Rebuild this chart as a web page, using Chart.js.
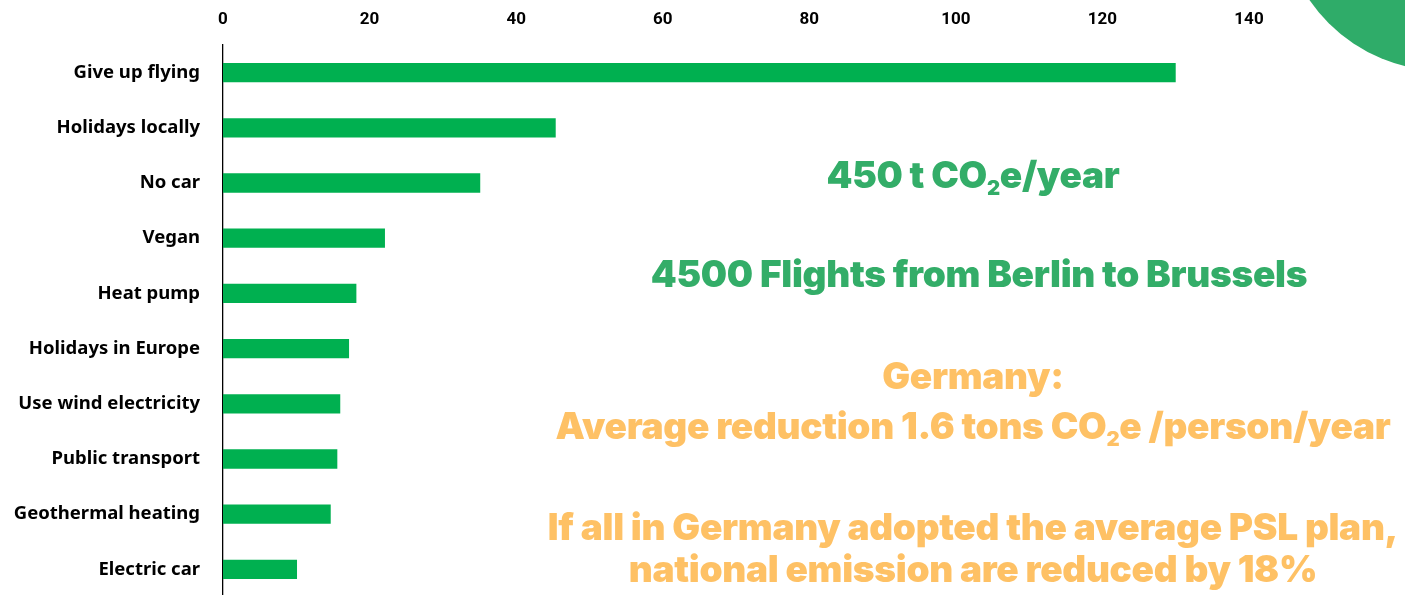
<!DOCTYPE html>
<html>
<head>
<meta charset="utf-8">
<script src="https://cdn.jsdelivr.net/npm/chart.js@4"></script>
<style>
  html, body { margin: 0; padding: 0; background: #fff; overflow: hidden; }
  #wrap { position: relative; width: 1405px; height: 595px; overflow: hidden; }
  #chart { position: absolute; left: 0; top: 0; }
  .blob {
    position: absolute; left: 1281px; top: -255px;
    width: 326px; height: 326px; border-radius: 50%; background: #2fac69;
  }
  .note {
    position: absolute; left: 973px; transform: translateX(-50%); text-align: center;
    font-family: "Inter", "Noto Sans", sans-serif; font-weight: 900;
    font-size: 37px; line-height: 1; letter-spacing: -0.3px; white-space: nowrap;
  }
  .note sub { font-size: 0.55em; vertical-align: -0.35em; line-height: 0; }
  .green { color: #33ad68; }
  .orange { color: #fec165; }
</style>
</head>
<body>
<div id="wrap">
  <canvas id="chart" width="1405" height="597"></canvas>
  <div class="blob"></div>
  <div class="note green" style="top:156px;">450 t CO<sub>2</sub>e/year</div>
  <div class="note green" style="top:255px; left:979px;">4500 Flights from Berlin to Brussels</div>
  <div class="note orange" style="top:357px;">Germany:</div>
  <div class="note orange" style="top:407px;">Average reduction 1.6 tons CO<sub>2</sub>e /person/year</div>
  <div class="note orange" style="top:508px;">If all in Germany adopted the average PSL plan,</div>
  <div class="note orange" style="top:550px;">national emission are reduced by 18%</div>
</div>
<script>
// CO2e savings per measure (t/year)
const measures = [
  "Give up flying",
  "Holidays locally",
  "No car",
  "Vegan",
  "Heat pump",
  "Holidays in Europe",
  "Use wind electricity",
  "Public transport",
  "Geothermal heating",
  "Electric car",
];
const savings = [130, 45.4, 35.1, 22.1, 18.2, 17.2, 16.0, 15.6, 14.7, 10.1];
const xTicks = [0, 20, 40, 60, 80, 100, 120, 140];

new Chart(document.getElementById("chart").getContext("2d"), {
  type: "bar",
  data: {
    labels: measures,
    datasets: [
      {
        data: savings,
        backgroundColor: "#00b050",
        borderWidth: 0,
        categoryPercentage: 1,
        barPercentage: 0.35,
      },
    ],
  },
  options: {
    responsive: false,
    animation: false,
    indexAxis: "y",
    layout: { padding: { right: 156, top: 0, left: 0, bottom: 0 } },
    plugins: { legend: { display: false }, tooltip: { enabled: false } },
    scales: {
      x: {
        position: "top",
        min: 0,
        max: 140,
        afterBuildTicks: (axis) => {
          axis.ticks = xTicks.map((v) => ({ value: v }));
        },
        afterFit: (axis) => {
          axis.height = 45;
        },
        grid: { display: false, drawTicks: false },
        border: { display: false },
        ticks: {
          color: "#000",
          padding: 15,
          font: { family: "'Liberation Sans Narrow', 'Roboto', sans-serif", size: 17, weight: "bold" },
        },
      },
      y: {
        // fixed label column, no extra room above/below the first/last bar
        afterFit: (axis) => {
          axis.width = 223;
          axis.paddingTop = 0;
          axis.paddingBottom = 0;
        },
        grid: { display: false, drawTicks: false },
        border: { display: true, color: "#000", width: 1.3 },
        ticks: {
          color: "#000",
          padding: 23,
          font: { family: "'Noto Sans', sans-serif", size: 18.5, weight: "bold" },
        },
      },
    },
  },
});
</script>
</body>
</html>
